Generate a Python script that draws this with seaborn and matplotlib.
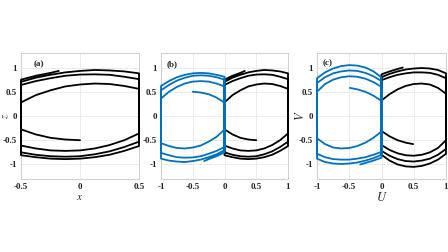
import numpy as np
import pandas as pd
import matplotlib
matplotlib.use("Agg")
import matplotlib.pyplot as plt
import seaborn as sns

# ---- panel (a): one trajectory, arcs in order of travel
grid_a = [-0.5, -0.375, -0.25, -0.125, 0.0, 0.125, 0.25, 0.375, 0.5]
grid_a_rev = grid_a[::-1]

a_first_x = [0.0, -0.125, -0.25, -0.375, -0.5]
a_first_y = [-0.50, -0.485, -0.45, -0.38, -0.275]
a_up1_y = [0.28, 0.43, 0.53, 0.61, 0.65, 0.67, 0.66, 0.62, 0.56]
a_low1_y = [-0.36, -0.50, -0.60, -0.67, -0.71, -0.72, -0.71, -0.67, -0.61]
a_up2_y = [0.64, 0.72, 0.78, 0.83, 0.855, 0.86, 0.85, 0.81, 0.76]
a_low2_y = [-0.53, -0.64, -0.73, -0.79, -0.83, -0.84, -0.83, -0.80, -0.75]
a_up3_y = [0.705, 0.79, 0.85, 0.90, 0.93, 0.95, 0.94, 0.92, 0.88]
a_low3_y = [-0.62, -0.72, -0.80, -0.85, -0.88, -0.89, -0.88, -0.85, -0.81]
a_last_x = [-0.5, -0.375, -0.25, -0.18]
a_last_y = [0.75, 0.83, 0.89, 0.93]

# ---- panel (c): black half of the trajectory, x in [0, 1]
grid_c = [0.0, 0.125, 0.25, 0.375, 0.5, 0.625, 0.75, 0.875, 1.0]
grid_c_rev = grid_c[::-1]

c_first_x = [0.49, 0.375, 0.25, 0.125, 0.0]
c_first_y = [-0.58, -0.55, -0.50, -0.42, -0.31]
c_up1_y = [0.32, 0.45, 0.55, 0.62, 0.66, 0.67, 0.65, 0.58, 0.46]
c_low1_y = [-0.50, -0.66, -0.75, -0.80, -0.82, -0.81, -0.77, -0.70, -0.60]
c_up2_y = [0.74, 0.80, 0.85, 0.88, 0.90, 0.90, 0.89, 0.85, 0.78]
c_low2_y = [-0.68, -0.80, -0.88, -0.92, -0.94, -0.93, -0.89, -0.82, -0.72]
c_up3_y = [0.80, 0.87, 0.92, 0.96, 0.98, 0.99, 0.98, 0.95, 0.88]
c_low3_y = [-0.78, -0.90, -0.98, -1.03, -1.05, -1.04, -1.00, -0.92, -0.80]
c_last_x = [0.0, 0.125, 0.25, 0.33]
c_last_y = [0.86, 0.92, 0.97, 1.00]

panel_tags = ["(a)", "(b)", "(c)"]
ticks_y = [-1, -0.5, 0, 0.5, 1]
ticks_x_a = [-0.5, 0, 0.5]
ticks_x_bc = [-1, -0.5, 0, 0.5, 1]
tick_text = {-1: "-1", -0.5: "-0.5", 0: "0", 0.5: "0.5", 1: "1"}


def trajectory(pieces):
    xs, ys = [], []
    for px, py in pieces:
        xs.extend(px)
        ys.extend(py)
    return pd.DataFrame({"x": xs, "y": ys})


traj_a = trajectory([
    (a_first_x, a_first_y), (grid_a, a_up1_y), (grid_a_rev, a_low1_y),
    (grid_a, a_up2_y), (grid_a_rev, a_low2_y), (grid_a, a_up3_y),
    (grid_a_rev, a_low3_y), (a_last_x, a_last_y),
])
traj_c = trajectory([
    (c_first_x, c_first_y), (grid_c, c_up1_y), (grid_c_rev, c_low1_y),
    (grid_c, c_up2_y), (grid_c_rev, c_low2_y), (grid_c, c_up3_y),
    (grid_c_rev, c_low3_y), (c_last_x, c_last_y),
])

# panel (b): same trajectory shifted to [0, 1], blue half is its mirror image
traj_b = pd.DataFrame({"x": traj_a["x"] + 0.5, "y": traj_a["y"]})
mirror_b = pd.DataFrame({"x": -traj_b["x"], "y": -traj_b["y"]})
mirror_c = pd.DataFrame({"x": -traj_c["x"], "y": -traj_c["y"]})

sns.set_theme(style="whitegrid")
plt.rcParams["font.family"] = ["Liberation Serif", "DejaVu Serif"]
plt.rcParams["mathtext.fontset"] = "stix"
plt.rcParams["axes.unicode_minus"] = False

fig = plt.figure(figsize=(4.48, 2.52), dpi=100)
boxes = [
    [21 / 448, 73 / 252, 118 / 448, 126 / 252],
    [161 / 448, 73 / 252, 127 / 448, 126 / 252],
    [317 / 448, 73 / 252, 129 / 448, 126 / 252],
]
axes = [fig.add_axes(b) for b in boxes]

black = "#000000"
blue = "#0072BD"
lw = 1.3

sns.lineplot(data=traj_a, x="x", y="y", sort=False, estimator=None, color=black, lw=lw, ax=axes[0])
sns.lineplot(data=traj_b, x="x", y="y", sort=False, estimator=None, color=black, lw=lw, ax=axes[1])
sns.lineplot(data=mirror_b, x="x", y="y", sort=False, estimator=None, color=blue, lw=lw, ax=axes[1])
sns.lineplot(data=traj_c, x="x", y="y", sort=False, estimator=None, color=black, lw=lw, ax=axes[2])
sns.lineplot(data=mirror_c, x="x", y="y", sort=False, estimator=None, color=blue, lw=lw, ax=axes[2])

tag_pos = [(0.15, 0.91), (0.09, 0.91), (0.085, 0.92)]
for i, ax in enumerate(axes):
    xt = ticks_x_a if i == 0 else ticks_x_bc
    ax.set_xlim(xt[0], xt[-1])
    ax.set_ylim(-1.3, 1.3)
    ax.set_xticks(xt)
    ax.set_xticklabels([tick_text[t] for t in xt])
    ax.set_yticks(ticks_y)
    ax.set_yticklabels([tick_text[t] for t in ticks_y])
    ax.set_facecolor("white")
    ax.grid(True, color="#e3e3e3", lw=0.5)
    for s in ax.spines.values():
        s.set_color("#c8c8c8")
        s.set_linewidth(0.6)
    # walls sit on the spines, don't cut them in half
    for ln in ax.lines:
        ln.set_clip_on(False)
        ln.set_zorder(3)
    ax.tick_params(labelsize=6.5, pad=3, length=0, colors="#222222")
    for lab in ax.get_xticklabels() + ax.get_yticklabels():
        lab.set_fontweight("bold")
    ax.set_xlabel("")
    ax.set_ylabel("")
    ax.text(tag_pos[i][0], tag_pos[i][1], panel_tags[i], transform=ax.transAxes,
            fontsize=6.5, fontweight="bold", ha="center", va="center")

axes[0].set_xlabel(r"$x$", fontsize=8, labelpad=1)
axes[0].set_ylabel(r"$\dot{z}$", fontsize=7.5, va="center")
axes[0].yaxis.set_label_coords(-0.13, 0.5)
axes[2].set_xlabel(r"$U$", fontsize=9, labelpad=0)
axes[2].set_ylabel(r"$V$", fontsize=9)
axes[2].yaxis.set_label_coords(-0.08, 0.5)

fig.savefig("out.png", dpi=100)
